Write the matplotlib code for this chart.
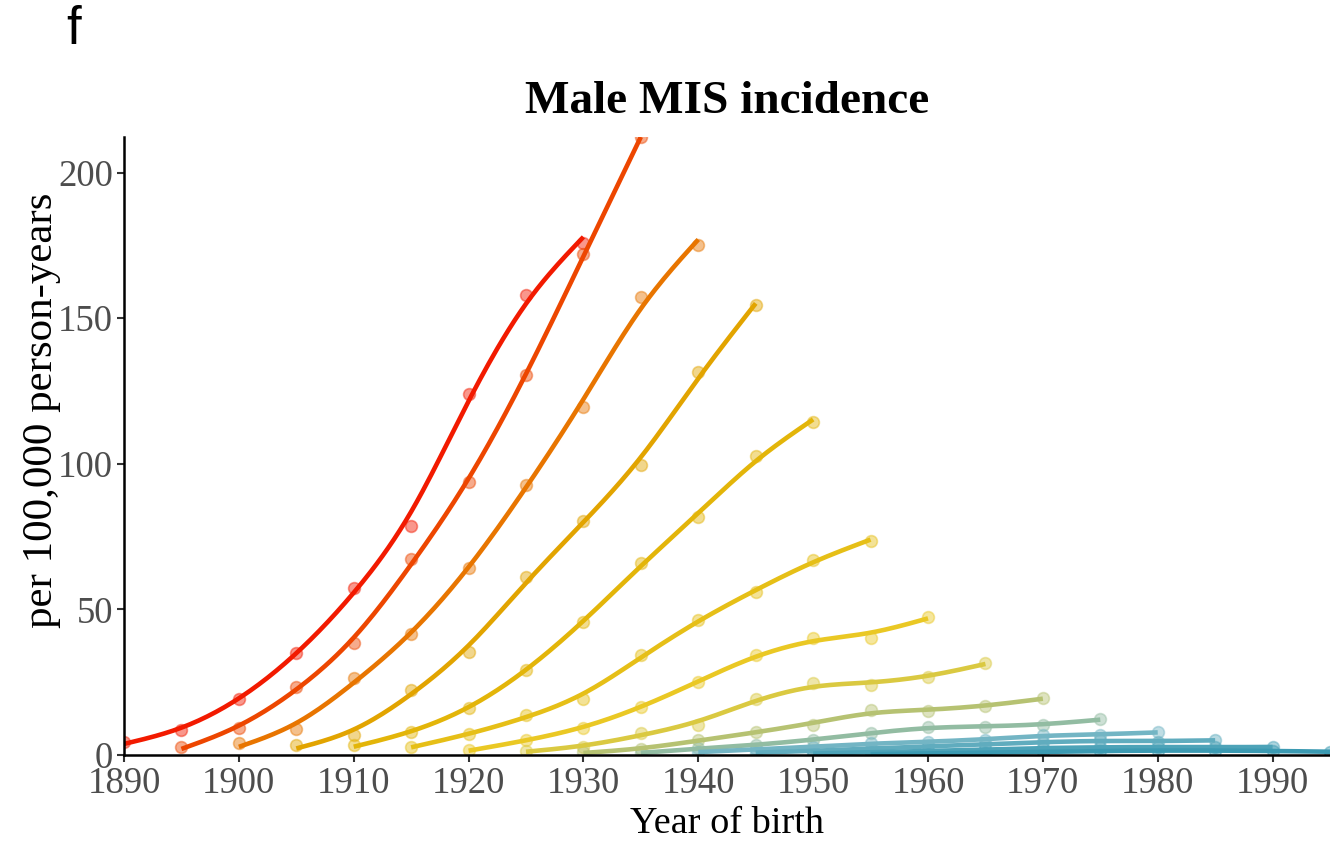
import numpy as np
import matplotlib
matplotlib.use("Agg")
import matplotlib.pyplot as plt
from matplotlib.colors import LinearSegmentedColormap

plt.rcParams["font.family"] = ["Liberation Serif", "DejaVu Serif"]

# incidence per 100,000 person-years by birth cohort, one list per age group
cohort_step = 5
first_cohort = [1890, 1895, 1900, 1905, 1910, 1915, 1920,
                1925, 1930, 1935, 1940, 1945, 1950, 1955]
g01 = [4.6, 8.6, 19.4, 35.0, 57.3, 78.5, 124.0, 158.0, 175.8]
g02 = [2.9, 9.1, 23.4, 38.5, 67.4, 93.6, 130.6, 172.0, 212.2]
g03 = [4.0, 8.8, 26.4, 41.4, 64.1, 92.6, 119.6, 157.4, 175.2]
g04 = [3.4, 6.9, 22.2, 35.5, 61.2, 80.4, 99.5, 131.6, 154.5]
g05 = [3.3, 8.0, 16.0, 29.2, 45.7, 65.9, 81.6, 102.7, 114.4]
g06 = [2.8, 7.2, 13.6, 19.4, 34.3, 46.3, 56.1, 66.8, 73.6]
g07 = [1.6, 5.2, 9.3, 16.4, 25.0, 34.3, 40.2, 40.3, 47.5]
g08 = [1.4, 2.8, 7.4, 10.3, 19.2, 24.6, 24.1, 26.8, 31.6]
g09 = [0.9, 1.9, 5.2, 7.8, 10.4, 15.5, 15.0, 16.8, 19.5]
g10 = [0.7, 2.3, 3.4, 5.2, 7.4, 9.7, 9.7, 10.3, 12.3]
g11 = [1.0, 1.9, 2.8, 4.0, 4.5, 5.2, 6.9, 6.9, 7.8]
g12 = [0.8, 1.4, 2.2, 3.0, 3.6, 4.4, 5.0, 4.6, 5.1]
g13 = [0.5, 0.9, 1.4, 1.9, 2.4, 2.6, 2.8, 2.6, 2.8]
g14 = [0.3, 0.5, 0.8, 1.1, 1.4, 1.5, 1.5, 1.4, 1.1]
groups = [g01, g02, g03, g04, g05, g06, g07, g08, g09, g10, g11, g12, g13, g14]

xticks = [1890, 1900, 1910, 1920, 1930, 1940, 1950, 1960, 1970, 1980, 1990]
yticks = [0, 50, 100, 150, 200]

zissou = ["#F21A00", "#E1AF00", "#EBCC2A", "#78B7C5", "#3B9AB2"]
cmap = LinearSegmentedColormap.from_list("zissou_rev", zissou)
colors = [cmap(i / (len(groups) - 1)) for i in range(len(groups))]


def smooth(y, lam=0.15, m=20):
    # penalised (second-difference) smoother on a fine grid through the points
    n = len(y)
    t = np.linspace(0, n - 1, (n - 1) * m + 1)
    k = len(t)
    dt = 1.0 / m
    A = np.zeros((n, k))
    A[np.arange(n), np.arange(n) * m] = 1.0
    D = np.diff(np.eye(k), 2, axis=0) / dt ** 2
    M = A.T @ A + lam * dt * (D.T @ D)
    f = np.linalg.solve(M, A.T @ np.asarray(y, dtype=float))
    return t, f


fig = plt.figure(figsize=(13.3, 8.41), dpi=100)
ax = fig.add_axes([124 / 1330, 86 / 841, 1206 / 1330, 618 / 841])

for i, (start, vals) in enumerate(zip(first_cohort, groups)):
    y = np.array(vals, dtype=float)
    x = start + cohort_step * np.arange(len(y), dtype=float)
    ax.scatter(x, y, s=72, color=colors[i], alpha=0.45, edgecolors=colors[i],
               linewidths=1.2, zorder=2)
    t, f = smooth(y)
    ax.plot(start + cohort_step * t, f, color=colors[i], lw=3.3,
            solid_capstyle="butt", zorder=3 + i * 0.01)

ymax = max(max(g) for g in groups)
ax.set_xlim(1890, 1995)
ax.set_ylim(0, ymax)
ax.set_xticks(xticks)
ax.set_yticks(yticks)

for side in ["top", "right"]:
    ax.spines[side].set_visible(False)
for side in ["left", "bottom"]:
    ax.spines[side].set_linewidth(1.8)
    ax.spines[side].set_color("black")
    ax.spines[side].set_zorder(5)

ax.tick_params(axis="both", length=5, width=1.5, color="#333333",
               labelsize=26.5, labelcolor="#4D4D4D", pad=3)

ax.set_xlabel("Year of birth", fontsize=27.5, color="black", labelpad=4)
ax.set_ylabel("per 100,000 person-years", fontsize=31, color="black")
ax.yaxis.set_label_coords(-0.052, 0.558)
ax.set_title("Male MIS incidence", fontsize=34, fontweight="bold", pad=17)

fig.text(66 / 1330, 1 - 44 / 841, "f", fontsize=38, family=["Liberation Sans", "DejaVu Sans"],
         ha="left", va="baseline")

fig.savefig("out.png", dpi=100)
